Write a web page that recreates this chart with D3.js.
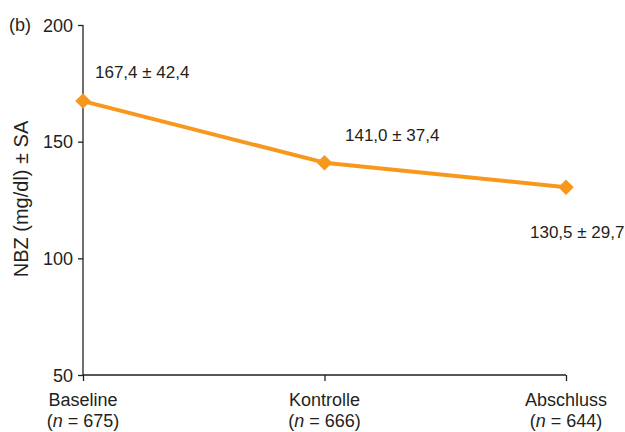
<!DOCTYPE html>
<html><head><meta charset="utf-8">
<script src="https://cdn.jsdelivr.net/npm/d3@7"></script>
<style>body{margin:0;background:#fff}text{font-family:"Liberation Sans",Arial,sans-serif;fill:#231f20}</style>
</head><body><svg id="c" width="625" height="432"></svg>
<script>
const categories = ["Baseline","Kontrolle","Abschluss"];
const nValues = [675, 666, 644];
const means = [167.4, 141.0, 130.5];
const sds = [42.4, 37.4, 29.7];
const yTicks = [50, 100, 150, 200];

const svg = d3.select("#c");
const x = d3.scalePoint().domain(categories).range([83, 566]);
const y = d3.scaleLinear().domain([50, 200]).range([375, 25]);
const orange = "#f7981d", ink = "#231f20";

const ya = svg.append("g").attr("transform","translate(83,0)")
  .call(d3.axisLeft(y).tickValues(yTicks).tickSize(5).tickPadding(5));
ya.select(".domain").attr("stroke", ink).attr("stroke-width",1.3).attr("d","M0,25V375");
ya.selectAll(".tick line").attr("stroke", ink).attr("stroke-width",1.3);
ya.selectAll(".tick text").attr("font-size",18).attr("dy","0.35em").style("font-family","'Liberation Sans',Arial,sans-serif").attr("fill","#231f20");

const xa = svg.append("g").attr("transform","translate(0,375)")
  .call(d3.axisBottom(x).tickSize(6).tickFormat(""));
xa.select(".domain").attr("stroke", ink).attr("stroke-width",1.3).attr("d","M83,0H566");
xa.selectAll(".tick line").attr("stroke", ink).attr("stroke-width",1.3);

categories.forEach((c,i)=>{
  svg.append("text").attr("x", x(c)).attr("y", 406).attr("text-anchor","middle").attr("font-size",18).text(c);
  const t = svg.append("text").attr("x", x(c)).attr("y", 427).attr("text-anchor","middle").attr("font-size",18);
  t.append("tspan").text("(");
  t.append("tspan").attr("font-style","italic").text("n");
  t.append("tspan").text(" = " + nValues[i] + ")");
});

svg.append("path").datum(means)
  .attr("fill","none").attr("stroke",orange).attr("stroke-width",4).attr("stroke-linejoin","round")
  .attr("d", d3.line().x((d,i)=>x(categories[i])).y(d=>y(d)));

svg.selectAll(".pt").data(means).enter().append("path")
  .attr("transform",(d,i)=>`translate(${x(categories[i])},${y(d)}) rotate(45)`)
  .attr("d","M-5.5,-5.5H5.5V5.5H-5.5Z").attr("fill",orange);

const fmt = v => v.toFixed(1).replace(".", ",");
const labelPos = [[95,78],[345,141],[530,238]];
means.forEach((m,i)=>{
  svg.append("text").attr("x", labelPos[i][0]).attr("y", labelPos[i][1]).attr("font-size",17)
    .text(fmt(m) + " ± " + fmt(sds[i]));
});

svg.append("text").attr("transform","translate(28,199) rotate(-90)").attr("text-anchor","middle")
  .attr("font-size",20).text("NBZ (mg/dl) ± SA");
svg.append("text").attr("x",9).attr("y",31).attr("font-size",18).text("(b)");
</script></body></html>
